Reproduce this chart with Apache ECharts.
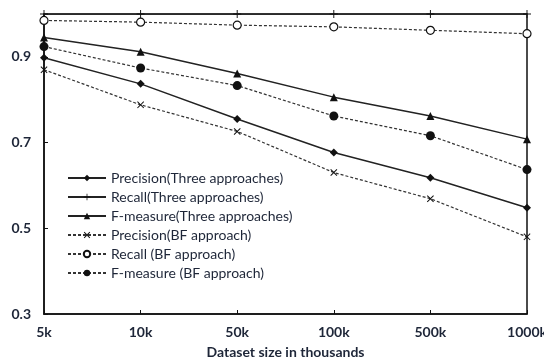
<!DOCTYPE html>
<html>
<head>
<meta charset="utf-8">
<script src="https://cdn.jsdelivr.net/npm/echarts@6/dist/echarts.min.js"></script>
<style>
  html, body { margin: 0; padding: 0; background: #fff; }
  #main { width: 544px; height: 361px; }
</style>
</head>
<body>
<div id="main"></div>
<script>
// x categories
var sizes = ['5k', '10k', '50k', '100k', '500k', '1000k'];

// three approaches
var precisionThree = [0.898, 0.837, 0.755, 0.677, 0.618, 0.548];
var recallThree = [1.0, 1.0, 1.0, 1.0, 1.0, 1.0];
var fmeasureThree = [0.945, 0.912, 0.861, 0.806, 0.762, 0.708];

// BF approach
var precisionBF = [0.870, 0.788, 0.726, 0.630, 0.569, 0.480];
var recallBF = [0.985, 0.981, 0.974, 0.970, 0.962, 0.954];
var fmeasureBF = [0.924, 0.874, 0.833, 0.762, 0.716, 0.637];

var plusPath = 'path://M4.4,0H5.6V4.4H10V5.6H5.6V10H4.4V5.6H0V4.4H4.4Z';
var crossPath = 'path://M1,0L5,4L9,0L10,1L6,5L10,9L9,10L5,6L1,10L0,9L4,5L0,1Z';

var textColor = '#1e2638';
var myChart = echarts.init(document.getElementById('main'));

function mkSeries(name, data, symbol, size, dashed, fill) {
    return {
        name: name,
        type: 'line',
        data: data,
        symbol: symbol,
        symbolSize: size,
        showAllSymbol: true,
        animation: false,
        lineStyle: {
            color: dashed ? '#333' : '#222',
            width: dashed ? 1.2 : 1.5,
            type: dashed ? [3, 2] : 'solid'
        },
        itemStyle: {
            color: fill || '#111',
            borderColor: '#111',
            borderWidth: fill ? 1.2 : 0
        }
    };
}

var option = {
    backgroundColor: '#fff',
    animation: false,
    grid: {
        left: 44,
        right: 17,
        top: 14,
        bottom: 47,
        containLabel: false,
        outerBoundsMode: 'none',
        show: true,
        borderColor: '#111',
        borderWidth: 1.5
    },
    legend: {
        orient: 'vertical',
        left: 62,
        top: 166,
        itemWidth: 38,
        itemHeight: 8,
        itemGap: 5,
        textStyle: {
            fontFamily: 'Lato',
            fontSize: 14,
            color: textColor,
            lineHeight: 14
        },
        data: ['Precision(Three approaches)', 'Recall(Three approaches)', 'F-measure(Three approaches)',
               'Precision(BF approach)', 'Recall (BF approach)', 'F-measure (BF approach)']
    },
    xAxis: {
        type: 'category',
        data: sizes,
        boundaryGap: false,
        name: 'Dataset size in thousands',
        nameLocation: 'middle',
        nameGap: 31,
        nameTextStyle: {
            fontFamily: 'Lato',
            fontSize: 14,
            fontWeight: 'bold',
            color: textColor
        },
        axisLine: { lineStyle: { color: '#111', width: 1.5 } },
        axisTick: { inside: true, length: 4, lineStyle: { color: '#111' } },
        axisLabel: {
            margin: 11,
            fontFamily: 'Lato',
            fontSize: 14,
            fontWeight: 'bold',
            color: textColor
        },
        splitLine: { show: false }
    },
    yAxis: {
        type: 'value',
        min: 0.3,
        max: 1.0,
        interval: 0.2,
        axisLine: { show: true, lineStyle: { color: '#111', width: 1.5 } },
        axisTick: { show: true, inside: true, length: 4, lineStyle: { color: '#111' } },
        axisLabel: {
            margin: 13,
            showMaxLabel: false,
            fontFamily: 'Lato',
            fontSize: 14,
            fontWeight: 'bold',
            color: textColor,
            formatter: function (v) { return v.toFixed(1); }
        },
        splitLine: { show: false }
    },
    series: [
        mkSeries('Precision(Three approaches)', precisionThree, 'diamond', 8, false),
        mkSeries('Recall(Three approaches)', recallThree, plusPath, 8, false),
        mkSeries('F-measure(Three approaches)', fmeasureThree, 'triangle', 8, false),
        mkSeries('Precision(BF approach)', precisionBF, crossPath, 7, true),
        mkSeries('Recall (BF approach)', recallBF, 'circle', 8, true, '#fff'),
        mkSeries('F-measure (BF approach)', fmeasureBF, 'circle', 9, true)
    ]
};
myChart.setOption(option);
</script>
</body>
</html>
